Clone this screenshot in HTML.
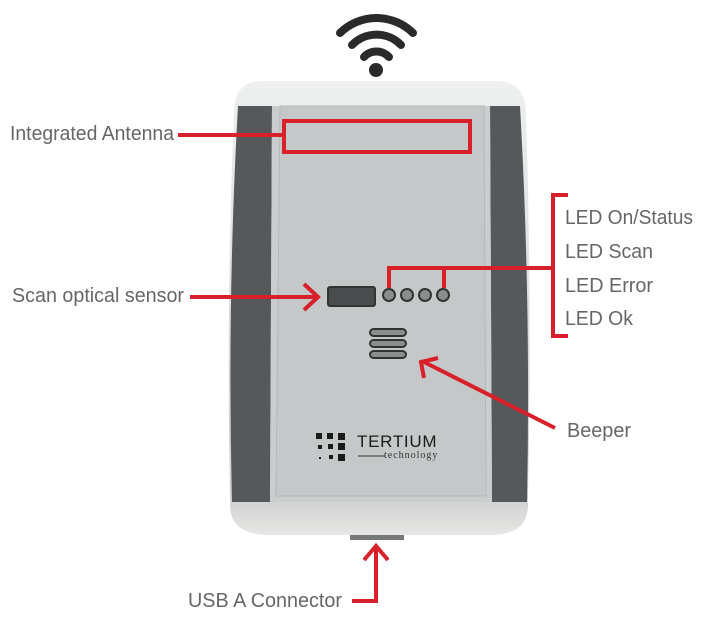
<!DOCTYPE html>
<html><head><style>
html,body{margin:0;padding:0;background:#fff;}
svg{display:block;}
text{font-family:"Liberation Sans",Arial,sans-serif;fill:#666;font-size:20px;}
</style></head><body>
<svg width="709" height="624" viewBox="0 0 709 624" xmlns="http://www.w3.org/2000/svg">
<defs>
<linearGradient id="cap" x1="0" y1="0" x2="0" y2="1"><stop offset="0" stop-color="#eef0f0"/><stop offset="1" stop-color="#c9cccc"/></linearGradient>
<linearGradient id="bcap" x1="0" y1="0" x2="0" y2="1"><stop offset="0" stop-color="#d2d3d2"/><stop offset="1" stop-color="#e6e6e4"/></linearGradient>
</defs>
<g fill="none" stroke="#2a2a2a" stroke-width="8" stroke-linecap="round">
<path d="M340 33 A52 52 0 0 1 413 33"/>
<path d="M352 45 A34 34 0 0 1 401 45"/>
<path d="M364 57 A17 17 0 0 1 389 57"/>
</g>
<circle cx="376" cy="70" r="7" fill="#2a2a2a"/>
<path d="M262 81 L496 81 Q524 81 526 110 Q532 300 528 495 Q528 535 490 535 L270 535 Q230 535 230 495 Q226 300 234 110 Q235 81 262 81 Z" fill="url(#cap)"/>
<path d="M238 106 L272 106 L270 502 L232 502 Q227 300 238 106 Z" fill="#55595b"/>
<path d="M490 106 L520 106 Q531 300 527 502 L492 502 Z" fill="#55595b"/>
<path d="M272 106 L490 106 L492 502 L270 502 Z" fill="#c9cdce"/>
<path d="M280 106 L484 106 L486 496 L276 496 Z" fill="#c4c8c9" stroke="#b4b8b9" stroke-width="1"/>
<path d="M230 502 L528 502 L528 505 Q528 535 490 535 L270 535 Q230 535 230 505 Z" fill="url(#bcap)"/>
<rect x="350" y="535" width="54" height="5" fill="#777"/>
<rect x="284" y="121" width="186" height="31" fill="none" stroke="#d8202a" stroke-width="4"/>
<rect x="328" y="287" width="47" height="19" rx="2" fill="#4a4d4e" stroke="#333" stroke-width="2"/>
<g fill="#8a8e8f" stroke="#333" stroke-width="2">
<circle cx="389" cy="295" r="6"/><circle cx="407" cy="295" r="6"/><circle cx="425" cy="295" r="6"/><circle cx="443" cy="295" r="6"/>
</g>
<g fill="#8a8e8f" stroke="#333" stroke-width="2">
<rect x="370" y="329" width="36" height="7" rx="3.5"/><rect x="370" y="340" width="36" height="7" rx="3.5"/><rect x="370" y="351" width="36" height="7" rx="3.5"/>
</g>
<g fill="#1a1a1a">
<rect x="316" y="433" width="6" height="6"/><rect x="327" y="433" width="6" height="6"/><rect x="338" y="433" width="7" height="7"/>
<rect x="318" y="445" width="4" height="4"/><rect x="328" y="444" width="5" height="5"/><rect x="338" y="443" width="7" height="7"/>
<rect x="319" y="457" width="2" height="2"/><rect x="329" y="455" width="4" height="4"/><rect x="338" y="454" width="7" height="7"/>
</g>
<text x="357" y="447" style="font-size:17px;fill:#1a1a1a;letter-spacing:0.5px" textLength="80">TERTIUM</text>
<line x1="358" y1="456" x2="385" y2="456" stroke="#333" stroke-width="1"/>
<text x="384" y="458" style="font-family:'Liberation Serif',serif;font-size:10px;fill:#333;letter-spacing:1px">technology</text>
<g stroke="#d8202a" stroke-width="4" fill="none">
<line x1="178" y1="135" x2="284" y2="135"/>
<line x1="190" y1="297" x2="316" y2="297"/>
<polyline points="304,284 318,297 304,310"/>
<polyline points="389,288 389,268 552,268"/>
<line x1="444" y1="268" x2="444" y2="288"/>
<polyline points="568,195 553,195 553,336 568,336"/>
<line x1="555" y1="428" x2="424" y2="362"/>
<polyline points="424,378 421,362 438,358"/>
<polyline points="352,601 376,601 376,546"/>
<polyline points="364,560 376,546 388,560"/>
</g>
<text x="10" y="140" textLength="164" lengthAdjust="spacingAndGlyphs">Integrated Antenna</text>
<text x="12" y="302" textLength="172" lengthAdjust="spacingAndGlyphs">Scan optical sensor</text>
<text x="565" y="224" textLength="128" lengthAdjust="spacingAndGlyphs">LED On/Status</text>
<text x="565" y="258" textLength="88" lengthAdjust="spacingAndGlyphs">LED Scan</text>
<text x="565" y="292" textLength="88" lengthAdjust="spacingAndGlyphs">LED Error</text>
<text x="565" y="325" textLength="68" lengthAdjust="spacingAndGlyphs">LED Ok</text>
<text x="567" y="437" textLength="64" lengthAdjust="spacingAndGlyphs">Beeper</text>
<text x="188" y="607" textLength="154" lengthAdjust="spacingAndGlyphs">USB A Connector</text>
</svg>
</body></html>
